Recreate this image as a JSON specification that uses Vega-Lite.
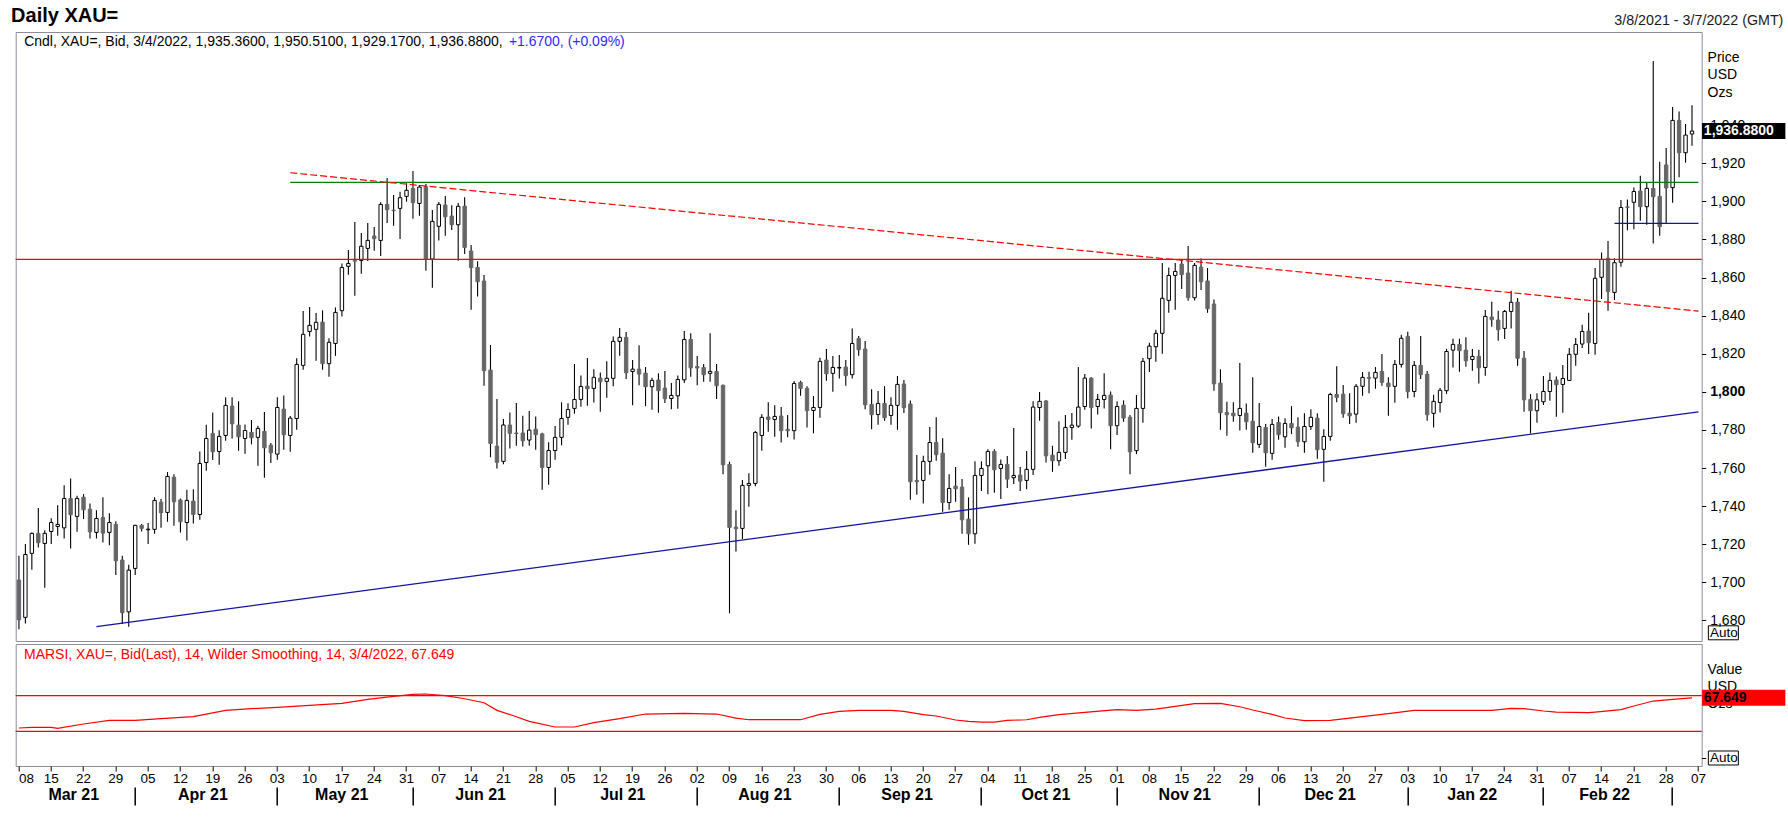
{
"$schema":"https://vega.github.io/schema/vega-lite/v6.json",
"background":"white",
"padding":{"left":10.7,"top":6,"right":2,"bottom":2},
"config":{"font":"Liberation Sans","view":{"stroke":"#8c8c9c","strokeWidth":1}},
"title":{"text":"Daily XAU=","anchor":"start","frame":"group","fontSize":20,"fontWeight":"bold","color":"#000000","offset":-13,"dx":-4.6},
"spacing":0,
"resolve":{"scale":{"x":"shared"}},
"datasets":{
"candles":[
{"d":"2021-03-08","o":1701.2,"h":1713.9,"l":1675.4,"c":1680.3},
{"d":"2021-03-09","o":1681.6,"h":1720.1,"l":1678.4,"c":1714.6},
{"d":"2021-03-10","o":1715.2,"h":1726.2,"l":1706.6,"c":1725.7},
{"d":"2021-03-11","o":1725.7,"h":1739.0,"l":1718.3,"c":1720.8},
{"d":"2021-03-12","o":1720.4,"h":1727.4,"l":1697.1,"c":1725.7},
{"d":"2021-03-15","o":1726.7,"h":1733.7,"l":1720.1,"c":1731.4},
{"d":"2021-03-16","o":1729.3,"h":1740.5,"l":1724.4,"c":1730.4},
{"d":"2021-03-17","o":1728.6,"h":1751.0,"l":1723.0,"c":1744.0},
{"d":"2021-03-18","o":1744.0,"h":1754.5,"l":1717.8,"c":1735.5},
{"d":"2021-03-19","o":1734.6,"h":1745.4,"l":1726.5,"c":1744.0},
{"d":"2021-03-22","o":1744.7,"h":1746.3,"l":1733.2,"c":1738.1},
{"d":"2021-03-23","o":1738.4,"h":1741.4,"l":1723.0,"c":1726.5},
{"d":"2021-03-24","o":1726.2,"h":1737.9,"l":1723.0,"c":1733.5},
{"d":"2021-03-25","o":1734.1,"h":1744.7,"l":1720.9,"c":1725.8},
{"d":"2021-03-26","o":1726.2,"h":1736.2,"l":1719.5,"c":1731.4},
{"d":"2021-03-29","o":1730.4,"h":1732.1,"l":1703.8,"c":1711.3},
{"d":"2021-03-30","o":1711.7,"h":1713.9,"l":1678.1,"c":1684.0},
{"d":"2021-03-31","o":1684.5,"h":1709.2,"l":1676.7,"c":1706.4},
{"d":"2021-04-01","o":1707.3,"h":1730.2,"l":1703.8,"c":1729.9},
{"d":"2021-04-02","o":1729.9,"h":1730.6,"l":1726.7,"c":1728.3},
{"d":"2021-04-05","o":1727.6,"h":1731.1,"l":1720.1,"c":1727.9},
{"d":"2021-04-06","o":1727.8,"h":1744.7,"l":1725.5,"c":1743.0},
{"d":"2021-04-07","o":1742.1,"h":1743.7,"l":1728.6,"c":1736.5},
{"d":"2021-04-08","o":1736.7,"h":1757.9,"l":1731.8,"c":1755.6},
{"d":"2021-04-09","o":1755.2,"h":1756.8,"l":1729.7,"c":1742.3},
{"d":"2021-04-12","o":1743.2,"h":1744.0,"l":1726.2,"c":1731.8},
{"d":"2021-04-13","o":1731.4,"h":1748.6,"l":1722.0,"c":1743.0},
{"d":"2021-04-14","o":1742.6,"h":1748.9,"l":1730.9,"c":1735.6},
{"d":"2021-04-15","o":1735.6,"h":1768.7,"l":1732.8,"c":1762.4},
{"d":"2021-04-16","o":1762.9,"h":1782.7,"l":1758.6,"c":1775.5},
{"d":"2021-04-19","o":1778.2,"h":1789.2,"l":1764.2,"c":1768.5},
{"d":"2021-04-20","o":1768.7,"h":1779.9,"l":1761.7,"c":1776.6},
{"d":"2021-04-21","o":1777.1,"h":1797.2,"l":1774.3,"c":1792.9},
{"d":"2021-04-22","o":1792.5,"h":1797.2,"l":1775.5,"c":1783.2},
{"d":"2021-04-23","o":1782.5,"h":1795.1,"l":1769.1,"c":1776.4},
{"d":"2021-04-26","o":1775.5,"h":1782.9,"l":1767.5,"c":1779.7},
{"d":"2021-04-27","o":1778.7,"h":1785.2,"l":1772.4,"c":1775.9},
{"d":"2021-04-28","o":1776.1,"h":1782.2,"l":1761.2,"c":1780.8},
{"d":"2021-04-29","o":1779.2,"h":1789.4,"l":1754.9,"c":1770.6},
{"d":"2021-04-30","o":1772.0,"h":1773.1,"l":1762.6,"c":1768.0},
{"d":"2021-05-03","o":1767.3,"h":1797.1,"l":1764.3,"c":1791.8},
{"d":"2021-05-04","o":1790.9,"h":1798.1,"l":1769.6,"c":1777.5},
{"d":"2021-05-05","o":1777.1,"h":1787.3,"l":1768.5,"c":1786.2},
{"d":"2021-05-06","o":1786.0,"h":1817.6,"l":1780.1,"c":1814.4},
{"d":"2021-05-07","o":1813.9,"h":1842.4,"l":1811.6,"c":1830.2},
{"d":"2021-05-10","o":1831.7,"h":1844.5,"l":1829.1,"c":1834.9},
{"d":"2021-05-11","o":1832.8,"h":1841.4,"l":1816.3,"c":1836.5},
{"d":"2021-05-12","o":1836.6,"h":1842.8,"l":1811.6,"c":1814.8},
{"d":"2021-05-13","o":1814.8,"h":1828.1,"l":1807.9,"c":1826.0},
{"d":"2021-05-14","o":1825.4,"h":1844.3,"l":1818.9,"c":1841.7},
{"d":"2021-05-17","o":1842.6,"h":1867.4,"l":1839.6,"c":1865.3},
{"d":"2021-05-18","o":1865.9,"h":1874.4,"l":1861.5,"c":1867.4},
{"d":"2021-05-19","o":1868.9,"h":1889.1,"l":1850.5,"c":1868.6},
{"d":"2021-05-20","o":1869.0,"h":1883.4,"l":1862.0,"c":1876.4},
{"d":"2021-05-21","o":1875.3,"h":1888.6,"l":1868.7,"c":1879.5},
{"d":"2021-05-24","o":1881.8,"h":1886.5,"l":1874.1,"c":1880.4},
{"d":"2021-05-25","o":1879.5,"h":1899.5,"l":1871.3,"c":1898.4},
{"d":"2021-05-26","o":1898.4,"h":1912.2,"l":1888.6,"c":1895.6},
{"d":"2021-05-27","o":1895.4,"h":1903.3,"l":1887.2,"c":1895.1},
{"d":"2021-05-28","o":1896.3,"h":1905.1,"l":1880.2,"c":1901.9},
{"d":"2021-05-31","o":1902.6,"h":1909.5,"l":1899.8,"c":1905.8},
{"d":"2021-06-01","o":1906.8,"h":1915.9,"l":1890.9,"c":1899.3},
{"d":"2021-06-02","o":1898.9,"h":1908.6,"l":1892.5,"c":1907.5},
{"d":"2021-06-03","o":1907.7,"h":1909.1,"l":1863.6,"c":1869.7},
{"d":"2021-06-04","o":1869.7,"h":1895.4,"l":1854.7,"c":1889.5},
{"d":"2021-06-07","o":1886.9,"h":1899.6,"l":1879.4,"c":1898.4},
{"d":"2021-06-08","o":1898.1,"h":1902.8,"l":1882.0,"c":1891.9},
{"d":"2021-06-09","o":1892.3,"h":1897.9,"l":1885.0,"c":1887.7},
{"d":"2021-06-10","o":1887.7,"h":1899.1,"l":1868.8,"c":1897.4},
{"d":"2021-06-11","o":1897.5,"h":1902.1,"l":1872.3,"c":1875.8},
{"d":"2021-06-14","o":1873.9,"h":1877.1,"l":1843.1,"c":1865.2},
{"d":"2021-06-15","o":1865.3,"h":1868.5,"l":1850.1,"c":1857.8},
{"d":"2021-06-16","o":1858.2,"h":1861.3,"l":1803.2,"c":1811.1},
{"d":"2021-06-17","o":1811.4,"h":1824.6,"l":1765.6,"c":1772.9},
{"d":"2021-06-18","o":1771.5,"h":1796.2,"l":1759.8,"c":1763.0},
{"d":"2021-06-21","o":1763.5,"h":1785.7,"l":1762.0,"c":1782.6},
{"d":"2021-06-22","o":1782.6,"h":1789.2,"l":1770.3,"c":1778.2},
{"d":"2021-06-23","o":1778.4,"h":1794.1,"l":1771.7,"c":1778.1},
{"d":"2021-06-24","o":1778.4,"h":1787.5,"l":1771.3,"c":1774.3},
{"d":"2021-06-25","o":1774.7,"h":1789.9,"l":1771.7,"c":1779.9},
{"d":"2021-06-28","o":1780.4,"h":1787.1,"l":1769.6,"c":1777.5},
{"d":"2021-06-29","o":1777.9,"h":1778.5,"l":1748.6,"c":1760.3},
{"d":"2021-06-30","o":1760.3,"h":1773.6,"l":1751.2,"c":1769.2},
{"d":"2021-07-01","o":1769.2,"h":1782.1,"l":1764.3,"c":1776.1},
{"d":"2021-07-02","o":1776.1,"h":1794.5,"l":1771.9,"c":1786.0},
{"d":"2021-07-05","o":1786.6,"h":1794.0,"l":1782.7,"c":1790.7},
{"d":"2021-07-06","o":1791.3,"h":1814.6,"l":1788.5,"c":1796.0},
{"d":"2021-07-07","o":1796.0,"h":1808.6,"l":1792.2,"c":1802.8},
{"d":"2021-07-08","o":1803.0,"h":1817.7,"l":1792.7,"c":1801.6},
{"d":"2021-07-09","o":1801.8,"h":1811.9,"l":1794.4,"c":1807.6},
{"d":"2021-07-12","o":1807.2,"h":1810.2,"l":1789.5,"c":1805.3},
{"d":"2021-07-13","o":1805.5,"h":1816.1,"l":1796.9,"c":1807.1},
{"d":"2021-07-14","o":1807.1,"h":1829.1,"l":1802.9,"c":1826.5},
{"d":"2021-07-15","o":1826.5,"h":1833.5,"l":1819.0,"c":1828.6},
{"d":"2021-07-16","o":1828.6,"h":1831.4,"l":1806.7,"c":1810.0},
{"d":"2021-07-19","o":1810.7,"h":1816.7,"l":1793.0,"c":1811.9},
{"d":"2021-07-20","o":1811.9,"h":1824.5,"l":1803.5,"c":1809.3},
{"d":"2021-07-21","o":1809.8,"h":1813.0,"l":1792.5,"c":1802.7},
{"d":"2021-07-22","o":1802.7,"h":1807.4,"l":1790.6,"c":1806.0},
{"d":"2021-07-23","o":1806.2,"h":1809.8,"l":1789.0,"c":1800.6},
{"d":"2021-07-26","o":1802.0,"h":1810.9,"l":1794.1,"c":1796.4},
{"d":"2021-07-27","o":1796.5,"h":1804.6,"l":1790.9,"c":1798.1},
{"d":"2021-07-28","o":1797.9,"h":1808.6,"l":1791.1,"c":1806.5},
{"d":"2021-07-29","o":1806.3,"h":1831.9,"l":1804.6,"c":1827.5},
{"d":"2021-07-30","o":1827.5,"h":1830.8,"l":1807.9,"c":1812.6},
{"d":"2021-08-02","o":1813.3,"h":1818.8,"l":1803.5,"c":1812.5},
{"d":"2021-08-03","o":1812.8,"h":1814.6,"l":1805.3,"c":1809.0},
{"d":"2021-08-04","o":1809.7,"h":1830.8,"l":1805.3,"c":1810.7},
{"d":"2021-08-05","o":1810.7,"h":1814.6,"l":1796.2,"c":1803.2},
{"d":"2021-08-06","o":1803.4,"h":1803.9,"l":1756.8,"c":1761.7},
{"d":"2021-08-09","o":1761.9,"h":1763.3,"l":1683.7,"c":1728.8},
{"d":"2021-08-10","o":1729.0,"h":1737.9,"l":1716.2,"c":1728.1},
{"d":"2021-08-11","o":1728.3,"h":1753.7,"l":1722.7,"c":1750.9},
{"d":"2021-08-12","o":1750.9,"h":1757.3,"l":1739.7,"c":1751.9},
{"d":"2021-08-13","o":1751.9,"h":1779.4,"l":1750.4,"c":1778.7},
{"d":"2021-08-16","o":1777.1,"h":1788.3,"l":1769.1,"c":1786.6},
{"d":"2021-08-17","o":1786.8,"h":1794.5,"l":1779.1,"c":1785.5},
{"d":"2021-08-18","o":1785.5,"h":1793.0,"l":1776.4,"c":1787.1},
{"d":"2021-08-19","o":1787.3,"h":1792.0,"l":1773.4,"c":1779.6},
{"d":"2021-08-20","o":1780.3,"h":1787.8,"l":1776.2,"c":1779.6},
{"d":"2021-08-23","o":1779.6,"h":1805.7,"l":1775.0,"c":1804.4},
{"d":"2021-08-24","o":1805.0,"h":1805.8,"l":1797.9,"c":1801.8},
{"d":"2021-08-25","o":1801.8,"h":1802.9,"l":1781.3,"c":1790.1},
{"d":"2021-08-26","o":1790.2,"h":1797.8,"l":1778.2,"c":1791.8},
{"d":"2021-08-27","o":1791.8,"h":1817.9,"l":1786.4,"c":1816.0},
{"d":"2021-08-30","o":1816.7,"h":1822.5,"l":1805.8,"c":1809.5},
{"d":"2021-08-31","o":1809.7,"h":1818.8,"l":1800.0,"c":1812.8},
{"d":"2021-09-01","o":1812.5,"h":1819.3,"l":1807.0,"c":1812.8},
{"d":"2021-09-02","o":1813.0,"h":1816.7,"l":1803.2,"c":1808.5},
{"d":"2021-09-03","o":1809.0,"h":1833.3,"l":1807.0,"c":1825.4},
{"d":"2021-09-06","o":1828.0,"h":1829.3,"l":1818.9,"c":1822.1},
{"d":"2021-09-07","o":1822.5,"h":1826.7,"l":1790.9,"c":1793.2},
{"d":"2021-09-08","o":1793.4,"h":1801.4,"l":1780.4,"c":1788.0},
{"d":"2021-09-09","o":1788.1,"h":1800.4,"l":1782.7,"c":1793.9},
{"d":"2021-09-10","o":1793.9,"h":1803.0,"l":1784.8,"c":1786.4},
{"d":"2021-09-13","o":1787.6,"h":1797.2,"l":1782.7,"c":1792.9},
{"d":"2021-09-14","o":1792.9,"h":1808.3,"l":1780.1,"c":1803.9},
{"d":"2021-09-15","o":1804.1,"h":1806.2,"l":1788.9,"c":1791.7},
{"d":"2021-09-16","o":1793.6,"h":1795.5,"l":1743.3,"c":1752.8},
{"d":"2021-09-17","o":1753.5,"h":1766.8,"l":1746.0,"c":1752.8},
{"d":"2021-09-20","o":1753.5,"h":1766.4,"l":1741.4,"c":1763.5},
{"d":"2021-09-21","o":1763.5,"h":1781.5,"l":1756.5,"c":1773.4},
{"d":"2021-09-22","o":1773.4,"h":1786.7,"l":1763.8,"c":1767.0},
{"d":"2021-09-23","o":1767.8,"h":1775.7,"l":1737.0,"c":1741.9},
{"d":"2021-09-24","o":1741.9,"h":1756.8,"l":1738.1,"c":1749.3},
{"d":"2021-09-27","o":1750.5,"h":1760.5,"l":1742.3,"c":1749.1},
{"d":"2021-09-28","o":1750.0,"h":1754.2,"l":1725.5,"c":1732.8},
{"d":"2021-09-29","o":1733.2,"h":1744.6,"l":1719.7,"c":1725.5},
{"d":"2021-09-30","o":1725.5,"h":1763.6,"l":1720.2,"c":1756.1},
{"d":"2021-10-01","o":1756.1,"h":1763.6,"l":1747.9,"c":1759.8},
{"d":"2021-10-04","o":1761.2,"h":1769.9,"l":1746.3,"c":1768.7},
{"d":"2021-10-05","o":1768.7,"h":1769.9,"l":1747.0,"c":1759.1},
{"d":"2021-10-06","o":1759.8,"h":1764.5,"l":1743.7,"c":1761.9},
{"d":"2021-10-07","o":1761.9,"h":1766.3,"l":1749.5,"c":1754.2},
{"d":"2021-10-08","o":1754.9,"h":1781.0,"l":1751.6,"c":1756.1},
{"d":"2021-10-11","o":1756.3,"h":1760.5,"l":1747.9,"c":1753.1},
{"d":"2021-10-12","o":1753.5,"h":1768.9,"l":1748.9,"c":1759.3},
{"d":"2021-10-13","o":1759.3,"h":1795.1,"l":1756.3,"c":1792.0},
{"d":"2021-10-14","o":1791.8,"h":1799.9,"l":1784.8,"c":1795.0},
{"d":"2021-10-15","o":1795.2,"h":1795.7,"l":1762.9,"c":1766.4},
{"d":"2021-10-18","o":1766.8,"h":1771.7,"l":1758.0,"c":1763.8},
{"d":"2021-10-19","o":1763.8,"h":1784.6,"l":1761.2,"c":1768.2},
{"d":"2021-10-20","o":1768.2,"h":1787.8,"l":1764.7,"c":1781.3},
{"d":"2021-10-21","o":1781.3,"h":1788.9,"l":1774.8,"c":1782.5},
{"d":"2021-10-22","o":1782.0,"h":1813.0,"l":1781.2,"c":1792.0},
{"d":"2021-10-25","o":1792.3,"h":1809.3,"l":1790.6,"c":1807.2},
{"d":"2021-10-26","o":1807.2,"h":1807.7,"l":1780.8,"c":1791.7},
{"d":"2021-10-27","o":1792.3,"h":1798.8,"l":1788.1,"c":1796.0},
{"d":"2021-10-28","o":1796.0,"h":1809.8,"l":1791.3,"c":1798.1},
{"d":"2021-10-29","o":1798.3,"h":1800.2,"l":1769.9,"c":1782.2},
{"d":"2021-11-01","o":1782.2,"h":1795.0,"l":1777.3,"c":1792.3},
{"d":"2021-11-02","o":1793.0,"h":1795.5,"l":1784.3,"c":1786.2},
{"d":"2021-11-03","o":1786.7,"h":1787.8,"l":1756.8,"c":1768.5},
{"d":"2021-11-04","o":1769.1,"h":1798.3,"l":1767.3,"c":1791.3},
{"d":"2021-11-05","o":1791.3,"h":1817.7,"l":1783.8,"c":1816.0},
{"d":"2021-11-08","o":1817.4,"h":1825.8,"l":1810.4,"c":1824.0},
{"d":"2021-11-09","o":1823.7,"h":1832.6,"l":1815.8,"c":1830.7},
{"d":"2021-11-10","o":1830.7,"h":1867.6,"l":1820.0,"c":1849.1},
{"d":"2021-11-11","o":1848.0,"h":1865.3,"l":1841.5,"c":1861.1},
{"d":"2021-11-12","o":1861.1,"h":1867.6,"l":1843.1,"c":1863.2},
{"d":"2021-11-15","o":1867.1,"h":1869.4,"l":1854.0,"c":1861.5},
{"d":"2021-11-16","o":1862.4,"h":1876.5,"l":1847.8,"c":1849.4},
{"d":"2021-11-17","o":1849.4,"h":1867.6,"l":1848.0,"c":1866.4},
{"d":"2021-11-18","o":1865.5,"h":1870.0,"l":1853.4,"c":1857.8},
{"d":"2021-11-19","o":1858.2,"h":1865.0,"l":1841.5,"c":1843.6},
{"d":"2021-11-22","o":1846.1,"h":1848.5,"l":1800.6,"c":1804.2},
{"d":"2021-11-23","o":1804.6,"h":1811.8,"l":1780.1,"c":1789.0},
{"d":"2021-11-24","o":1789.2,"h":1794.8,"l":1776.9,"c":1788.0},
{"d":"2021-11-25","o":1788.8,"h":1794.5,"l":1784.3,"c":1787.4},
{"d":"2021-11-26","o":1787.6,"h":1815.1,"l":1779.7,"c":1791.3},
{"d":"2021-11-29","o":1788.8,"h":1793.9,"l":1780.1,"c":1784.3},
{"d":"2021-11-30","o":1784.6,"h":1807.7,"l":1768.0,"c":1773.3},
{"d":"2021-12-01","o":1772.4,"h":1794.1,"l":1770.5,"c":1781.8},
{"d":"2021-12-02","o":1781.3,"h":1783.1,"l":1760.7,"c":1768.0},
{"d":"2021-12-03","o":1767.7,"h":1785.7,"l":1764.3,"c":1782.9},
{"d":"2021-12-06","o":1783.9,"h":1787.1,"l":1774.8,"c":1777.5},
{"d":"2021-12-07","o":1776.4,"h":1786.2,"l":1770.6,"c":1783.4},
{"d":"2021-12-08","o":1783.4,"h":1792.5,"l":1777.8,"c":1781.1},
{"d":"2021-12-09","o":1781.5,"h":1786.6,"l":1771.2,"c":1773.8},
{"d":"2021-12-10","o":1773.8,"h":1788.7,"l":1768.0,"c":1781.8},
{"d":"2021-12-13","o":1781.8,"h":1790.8,"l":1780.1,"c":1786.6},
{"d":"2021-12-14","o":1786.2,"h":1788.7,"l":1764.9,"c":1769.6},
{"d":"2021-12-15","o":1769.8,"h":1780.4,"l":1752.8,"c":1776.6},
{"d":"2021-12-16","o":1776.6,"h":1799.5,"l":1774.3,"c":1798.6},
{"d":"2021-12-17","o":1798.6,"h":1813.4,"l":1794.5,"c":1797.1},
{"d":"2021-12-20","o":1798.8,"h":1803.6,"l":1786.4,"c":1788.5},
{"d":"2021-12-21","o":1788.8,"h":1799.2,"l":1783.1,"c":1787.4},
{"d":"2021-12-22","o":1788.3,"h":1804.1,"l":1783.8,"c":1802.9},
{"d":"2021-12-23","o":1802.9,"h":1810.4,"l":1798.0,"c":1807.6},
{"d":"2021-12-24","o":1807.6,"h":1810.6,"l":1799.2,"c":1807.1},
{"d":"2021-12-27","o":1807.2,"h":1813.0,"l":1801.6,"c":1810.2},
{"d":"2021-12-28","o":1810.7,"h":1819.8,"l":1803.2,"c":1805.0},
{"d":"2021-12-29","o":1804.6,"h":1807.6,"l":1787.4,"c":1802.7},
{"d":"2021-12-30","o":1802.9,"h":1816.7,"l":1794.3,"c":1814.4},
{"d":"2021-12-31","o":1814.4,"h":1830.0,"l":1812.8,"c":1828.1},
{"d":"2022-01-03","o":1829.1,"h":1831.6,"l":1796.6,"c":1800.1},
{"d":"2022-01-04","o":1800.2,"h":1816.2,"l":1797.1,"c":1813.9},
{"d":"2022-01-05","o":1813.9,"h":1829.3,"l":1806.7,"c":1809.0},
{"d":"2022-01-06","o":1809.2,"h":1810.9,"l":1784.8,"c":1788.0},
{"d":"2022-01-07","o":1788.7,"h":1798.5,"l":1781.3,"c":1795.0},
{"d":"2022-01-10","o":1794.4,"h":1802.0,"l":1789.2,"c":1800.8},
{"d":"2022-01-11","o":1800.6,"h":1822.6,"l":1798.8,"c":1821.2},
{"d":"2022-01-12","o":1821.9,"h":1827.9,"l":1812.8,"c":1824.9},
{"d":"2022-01-13","o":1824.9,"h":1827.9,"l":1810.6,"c":1821.6},
{"d":"2022-01-14","o":1821.9,"h":1828.6,"l":1813.2,"c":1816.3},
{"d":"2022-01-17","o":1817.0,"h":1822.5,"l":1811.1,"c":1818.6},
{"d":"2022-01-18","o":1818.6,"h":1822.1,"l":1804.4,"c":1812.6},
{"d":"2022-01-19","o":1812.8,"h":1842.9,"l":1808.4,"c":1839.6},
{"d":"2022-01-20","o":1839.3,"h":1847.3,"l":1834.2,"c":1837.9},
{"d":"2022-01-21","o":1837.7,"h":1842.6,"l":1826.8,"c":1832.6},
{"d":"2022-01-24","o":1833.3,"h":1842.9,"l":1827.7,"c":1842.2},
{"d":"2022-01-25","o":1842.2,"h":1853.1,"l":1833.3,"c":1847.0},
{"d":"2022-01-26","o":1847.1,"h":1849.2,"l":1813.7,"c":1817.6},
{"d":"2022-01-27","o":1817.7,"h":1821.4,"l":1789.6,"c":1795.8},
{"d":"2022-01-28","o":1796.0,"h":1798.8,"l":1778.2,"c":1790.1},
{"d":"2022-01-31","o":1790.1,"h":1799.3,"l":1783.8,"c":1795.8},
{"d":"2022-02-01","o":1794.8,"h":1808.3,"l":1793.1,"c":1800.2},
{"d":"2022-02-02","o":1800.2,"h":1810.2,"l":1795.3,"c":1806.0},
{"d":"2022-02-03","o":1806.2,"h":1808.1,"l":1786.9,"c":1803.7},
{"d":"2022-02-04","o":1803.9,"h":1814.1,"l":1789.0,"c":1807.0},
{"d":"2022-02-07","o":1806.0,"h":1823.0,"l":1806.0,"c":1819.7},
{"d":"2022-02-08","o":1819.7,"h":1828.2,"l":1813.7,"c":1824.9},
{"d":"2022-02-09","o":1825.1,"h":1835.2,"l":1823.0,"c":1831.7},
{"d":"2022-02-10","o":1831.9,"h":1841.5,"l":1819.8,"c":1825.8},
{"d":"2022-02-11","o":1825.4,"h":1865.0,"l":1819.5,"c":1859.6},
{"d":"2022-02-14","o":1860.1,"h":1873.2,"l":1848.7,"c":1869.5},
{"d":"2022-02-15","o":1870.1,"h":1879.2,"l":1842.6,"c":1852.6},
{"d":"2022-02-16","o":1852.2,"h":1870.1,"l":1848.2,"c":1867.8},
{"d":"2022-02-17","o":1868.0,"h":1900.7,"l":1865.7,"c":1896.8},
{"d":"2022-02-18","o":1897.1,"h":1901.0,"l":1884.8,"c":1896.8},
{"d":"2022-02-21","o":1899.5,"h":1907.3,"l":1885.3,"c":1905.2},
{"d":"2022-02-22","o":1905.4,"h":1913.5,"l":1889.8,"c":1897.2},
{"d":"2022-02-23","o":1897.2,"h":1910.0,"l":1887.7,"c":1906.8},
{"d":"2022-02-24","o":1906.8,"h":1973.7,"l":1877.9,"c":1902.4},
{"d":"2022-02-25","o":1902.6,"h":1920.8,"l":1882.0,"c":1886.7},
{"d":"2022-02-28","o":1919.1,"h":1928.0,"l":1888.4,"c":1907.0},
{"d":"2022-03-01","o":1907.2,"h":1949.5,"l":1899.3,"c":1942.5},
{"d":"2022-03-02","o":1942.5,"h":1947.2,"l":1912.6,"c":1925.5},
{"d":"2022-03-03","o":1925.5,"h":1940.6,"l":1920.3,"c":1934.8},
{"d":"2022-03-04","o":1935.36,"h":1950.51,"l":1929.17,"c":1936.88}
],
"marsi":[
{"d":"2021-03-08","v":33.7},{"d":"2021-03-10","v":34.4},{"d":"2021-03-15","v":34.4},{"d":"2021-03-16","v":33.3},
{"d":"2021-03-22","v":38.2},{"d":"2021-03-26","v":42.3},{"d":"2021-04-01","v":42.3},{"d":"2021-04-07","v":44.2},
{"d":"2021-04-14","v":46.4},{"d":"2021-04-21","v":53.5},{"d":"2021-04-27","v":55.4},{"d":"2021-05-03","v":56.9},
{"d":"2021-05-10","v":59.1},{"d":"2021-05-17","v":61.4},{"d":"2021-05-21","v":65.9},{"d":"2021-05-27","v":69.3},
{"d":"2021-06-01","v":71.5},{"d":"2021-06-03","v":71.9},{"d":"2021-06-08","v":70.0},{"d":"2021-06-11","v":66.6},
{"d":"2021-06-16","v":62.1},{"d":"2021-06-18","v":53.5},{"d":"2021-06-23","v":46.4},{"d":"2021-06-25","v":41.2},
{"d":"2021-07-01","v":34.8},{"d":"2021-07-06","v":34.8},{"d":"2021-07-09","v":39.7},{"d":"2021-07-15","v":44.2},
{"d":"2021-07-21","v":49.4},{"d":"2021-07-29","v":50.1},{"d":"2021-08-05","v":49.4},{"d":"2021-08-10","v":44.9},
{"d":"2021-08-12","v":43.0},{"d":"2021-08-17","v":43.0},{"d":"2021-08-24","v":43.0},{"d":"2021-08-27","v":49.0},
{"d":"2021-09-01","v":52.4},{"d":"2021-09-06","v":53.5},{"d":"2021-09-13","v":53.5},{"d":"2021-09-15","v":52.4},
{"d":"2021-09-20","v":48.7},{"d":"2021-09-22","v":47.2},{"d":"2021-09-27","v":42.7},{"d":"2021-09-29","v":41.2},
{"d":"2021-10-01","v":40.4},{"d":"2021-10-05","v":40.4},{"d":"2021-10-07","v":42.3},{"d":"2021-10-12","v":43.0},
{"d":"2021-10-14","v":45.7},{"d":"2021-10-19","v":48.7},{"d":"2021-10-25","v":51.3},{"d":"2021-11-01","v":54.3},
{"d":"2021-11-04","v":53.5},{"d":"2021-11-09","v":55.0},{"d":"2021-11-12","v":58.0},{"d":"2021-11-17","v":61.0},
{"d":"2021-11-23","v":61.4},{"d":"2021-11-26","v":57.6},{"d":"2021-11-30","v":53.9},{"d":"2021-12-03","v":49.0},
{"d":"2021-12-07","v":44.9},{"d":"2021-12-10","v":41.9},{"d":"2021-12-16","v":42.3},{"d":"2021-12-22","v":45.7},
{"d":"2021-12-29","v":49.8},{"d":"2022-01-04","v":53.5},{"d":"2022-01-11","v":53.5},{"d":"2022-01-20","v":53.5},
{"d":"2022-01-25","v":55.8},{"d":"2022-01-27","v":55.4},{"d":"2022-02-01","v":52.8},{"d":"2022-02-03","v":51.6},
{"d":"2022-02-10","v":50.9},{"d":"2022-02-11","v":51.6},{"d":"2022-02-17","v":54.3},{"d":"2022-02-21","v":58.4},
{"d":"2022-02-24","v":64.0},{"d":"2022-03-01","v":65.9},{"d":"2022-03-04","v":67.649}
]
},
"vconcat":[
{
"width":1686,"height":609,
"title":{"text":"3/8/2021 - 3/7/2022 (GMT)","anchor":"end","frame":"group","dx":81.7,"fontSize":14.3,"fontWeight":"normal","color":"#1a1a1a","offset":4},
"data":{"name":"candles"},
"layer":[
{"mark":{"type":"rule","color":"#000000","strokeWidth":1.1},
 "encoding":{
  "x":{"field":"d","type":"ordinal","scale":{"type":"band","paddingInner":0,"paddingOuter":0},"axis":null},
  "y":{"field":"l","type":"quantitative","scale":{"domain":[1669.2,1988.9],"nice":false,"zero":false},
   "axis":{"orient":"right","values":[1680,1700,1720,1740,1760,1780,1800,1820,1840,1860,1880,1900,1920,1940],"format":",d",
    "labelFontSize":14,"labelColor":"#000000","labelFontWeight":{"condition":{"test":"datum.value == 1800","value":"bold"},"value":"normal"},
    "tickColor":"#000000","tickSize":4,"labelPadding":4,"domain":false,"grid":false,"labelOverlap":false,
    "title":["Price","USD","Ozs"],"titleAngle":0,"titleAlign":"left","titleBaseline":"top","titleX":5.4,"titleY":18,
    "titleFontSize":14,"titleFontWeight":"normal","titleColor":"#000000","titleLineHeight":18}},
  "y2":{"field":"h"}}},
{"mark":{"type":"bar","strokeWidth":1,"size":3.4},
 "encoding":{
  "x":{"field":"d","type":"ordinal","axis":null},
  "y":{"field":"o","type":"quantitative"},
  "y2":{"field":"c"},
  "fill":{"condition":{"test":"datum.c >= datum.o","value":"#ffffff"},"value":"#666666"},
  "stroke":{"condition":{"test":"datum.c >= datum.o","value":"#000000"},"value":"#666666"}}},
{"data":{"values":[{}]},"mark":{"type":"rule","color":"#ff0000","strokeWidth":1.2},
 "encoding":{"y":{"datum":1869.5,"type":"quantitative"}}},
{"data":{"values":[{}]},"mark":{"type":"rule","color":"#008000","strokeWidth":1.2},
 "encoding":{"x":{"datum":"2021-05-05","type":"ordinal","axis":null},"x2":{"datum":"2022-03-07"},"y":{"datum":1910.0,"type":"quantitative"},"y2":{"datum":1910.0}}},
{"data":{"values":[{}]},"mark":{"type":"rule","color":"#ff0000","strokeWidth":1.2,"strokeDash":[7,3]},
 "encoding":{"x":{"datum":"2021-05-05","type":"ordinal","axis":null},"x2":{"datum":"2022-03-07"},"y":{"datum":1915.0,"type":"quantitative"},"y2":{"datum":1842.4}}},
{"data":{"values":[{}]},"mark":{"type":"rule","color":"#1414a0","strokeWidth":1.3},
 "encoding":{"x":{"datum":"2021-03-24","type":"ordinal","axis":null},"x2":{"datum":"2022-03-07"},"y":{"datum":1676.8,"type":"quantitative"},"y2":{"datum":1789.5}}},
{"data":{"values":[{}]},"mark":{"type":"rule","color":"#1414a0","strokeWidth":1.3},
 "encoding":{"x":{"datum":"2022-02-16","type":"ordinal","axis":null},"x2":{"datum":"2022-03-07"},"y":{"datum":1888.4,"type":"quantitative"},"y2":{"datum":1888.4}}},
{"data":{"values":[{}]},"mark":{"type":"text","align":"left","baseline":"middle","dx":5.2,"fontSize":14,"color":"#000000"},
 "encoding":{"x":{"datum":"2021-03-08","type":"ordinal","axis":null},"y":{"datum":1983.5,"type":"quantitative"},"text":{"value":"Cndl, XAU=, Bid, 3/4/2022, 1,935.3600, 1,950.5100, 1,929.1700, 1,936.8800,"}}},
{"data":{"values":[{}]},"mark":{"type":"text","align":"left","baseline":"middle","dx":490,"fontSize":14,"color":"#2b2bff"},
 "encoding":{"x":{"datum":"2021-03-08","type":"ordinal","axis":null},"y":{"datum":1983.5,"type":"quantitative"},"text":{"value":"+1.6700, (+0.09%)"}}},
{"data":{"values":[{}]},"mark":{"type":"point","shape":"M0.36,-0.8H8.69V0.8H0.36Z","size":400,"filled":true,"color":"#000000","opacity":1,"strokeWidth":0},
 "encoding":{"x":{"datum":"2022-03-07","type":"ordinal","axis":null},"y":{"datum":1936.88,"type":"quantitative"}}},
{"data":{"values":[{}]},"mark":{"type":"text","align":"left","baseline":"middle","dx":5.4,"fontSize":14,"fontWeight":"bold","color":"#ffffff"},
 "encoding":{"x":{"datum":"2022-03-07","type":"ordinal","axis":null},"y":{"datum":1936.88,"type":"quantitative"},"text":{"value":"1,936.8800"}}},
{"data":{"values":[{}]},"mark":{"type":"point","shape":"M0.99,-0.7H3.99V0.7H0.99Z","size":400,"filled":false,"stroke":"#000000","strokeWidth":1,"opacity":1},
 "encoding":{"x":{"datum":"2022-03-07","type":"ordinal","axis":null},"y":{"datum":1673.5,"type":"quantitative"}}},
{"data":{"values":[{}]},"mark":{"type":"text","align":"left","baseline":"middle","dx":11.6,"fontSize":13.5,"color":"#000000"},
 "encoding":{"x":{"datum":"2022-03-07","type":"ordinal","axis":null},"y":{"datum":1673.5,"type":"quantitative"},"text":{"value":"Auto"}}}
]
},
{
"width":1686,"height":122,
"data":{"name":"marsi"},
"resolve":{"axis":{"x":"independent"}},
"layer":[
{"data":{"values":[{}]},"mark":{"type":"rule","color":"#ff0000","strokeWidth":1.2},
 "encoding":{"y":{"datum":70,"type":"quantitative","scale":{"domain":[-9,128.1],"nice":false,"zero":false},
  "axis":{"orient":"right","values":[0],"labels":false,"ticks":true,"tickSize":4,"tickColor":"#000000","domain":false,"grid":false,
   "title":["Value","USD","Ozs"],"titleAngle":0,"titleAlign":"left","titleBaseline":"top","titleX":5.4,"titleY":19,
   "titleFontSize":14,"titleFontWeight":"normal","titleColor":"#000000","titleLineHeight":17}}}},
{"data":{"values":[{}]},"mark":{"type":"rule","color":"#ff0000","strokeWidth":1.2},
 "encoding":{"y":{"datum":30,"type":"quantitative"}}},
{"mark":{"type":"line","color":"#ff0000","strokeWidth":1.2},
 "encoding":{
  "x":{"field":"d","type":"ordinal",
   "axis":{"orient":"bottom","values":["2021-03-08","2021-03-15","2021-03-22","2021-03-29","2021-04-05","2021-04-12","2021-04-19","2021-04-26","2021-05-03","2021-05-10","2021-05-17","2021-05-24","2021-05-31","2021-06-07","2021-06-14","2021-06-21","2021-06-28","2021-07-05","2021-07-12","2021-07-19","2021-07-26","2021-08-02","2021-08-09","2021-08-16","2021-08-23","2021-08-30","2021-09-06","2021-09-13","2021-09-20","2021-09-27","2021-10-04","2021-10-11","2021-10-18","2021-10-25","2021-11-01","2021-11-08","2021-11-15","2021-11-22","2021-11-29","2021-12-06","2021-12-13","2021-12-20","2021-12-27","2022-01-03","2022-01-10","2022-01-17","2022-01-24","2022-01-31","2022-02-07","2022-02-14","2022-02-21","2022-02-28","2022-03-07"],
    "labelExpr":"slice(datum.value, 8, 10)","labelAngle":0,"labelFontSize":13.5,"labelColor":"#000000","labelBaseline":"middle","labelPadding":8,
    "tickSize":5,"tickColor":"#000000","tickWidth":1,"domain":false,"grid":false,"title":null,"labelFlush":true,"labelOverlap":false,"bandPosition":0.5}},
  "y":{"field":"v","type":"quantitative"}}},
{"data":{"values":[{}]},"mark":{"type":"point","shape":"M0.36,-0.8H8.69V0.8H0.36Z","size":400,"filled":true,"color":"#ff0000","opacity":1,"strokeWidth":0},
 "encoding":{"x":{"datum":"2022-03-07","type":"ordinal",
   "axis":{"orient":"bottom","offset":21,"values":["2021-04-01","2021-05-03","2021-06-01","2021-07-01","2021-08-02","2021-09-01","2021-10-01","2021-11-01","2021-12-01","2022-01-03","2022-02-01","2022-03-01"],
    "labelExpr":"utcFormat(utc(toNumber(slice(datum.value,0,4)), toNumber(slice(datum.value,5,7)) - 2, 15), '%b %y')",
    "labelAngle":0,"labelFontSize":16,"labelFontWeight":"bold","labelColor":"#000000","labelBaseline":"middle","labelPadding":-10,
    "labelOffset":{"condition":[
      {"test":"datum.value == '2021-04-01'","value":-61.5},
      {"test":"datum.value == '2021-06-01' || datum.value == '2021-11-01' || datum.value == '2022-02-01'","value":-71.2},
      {"test":"datum.value == '2022-01-03'","value":-77.6},
      {"test":"datum.value == '2022-03-01'","value":-68}],"value":-74.4},
    "tickSize":18,"tickWidth":1.5,"tickColor":"#000000","domain":false,"grid":false,"title":null,"labelFlush":false,"labelOverlap":false,"bandPosition":0.5}},
  "y":{"datum":67.649,"type":"quantitative"}}},
{"data":{"values":[{}]},"mark":{"type":"text","align":"left","baseline":"middle","dx":5.4,"fontSize":14,"fontWeight":"bold","color":"#000000"},
 "encoding":{"x":{"datum":"2022-03-07","type":"ordinal","axis":null},"y":{"datum":67.649,"type":"quantitative"},"text":{"value":"67.649"}}},
{"data":{"values":[{}]},"mark":{"type":"point","shape":"M0.99,-0.7H3.99V0.7H0.99Z","size":400,"filled":false,"stroke":"#000000","strokeWidth":1,"opacity":1},
 "encoding":{"x":{"datum":"2022-03-07","type":"ordinal","axis":null},"y":{"datum":0,"type":"quantitative"}}},
{"data":{"values":[{}]},"mark":{"type":"text","align":"left","baseline":"middle","dx":11.6,"fontSize":13.5,"color":"#000000"},
 "encoding":{"x":{"datum":"2022-03-07","type":"ordinal","axis":null},"y":{"datum":0,"type":"quantitative"},"text":{"value":"Auto"}}},
{"data":{"values":[{}]},"mark":{"type":"text","align":"left","baseline":"middle","dx":5.1,"fontSize":14,"color":"#ff0000"},
 "encoding":{"x":{"datum":"2021-03-08","type":"ordinal","axis":null},"y":{"datum":115.4,"type":"quantitative"},"text":{"value":"MARSI, XAU=, Bid(Last),  14, Wilder Smoothing, 14, 3/4/2022, 67.649"}}}
]
}
]
}
